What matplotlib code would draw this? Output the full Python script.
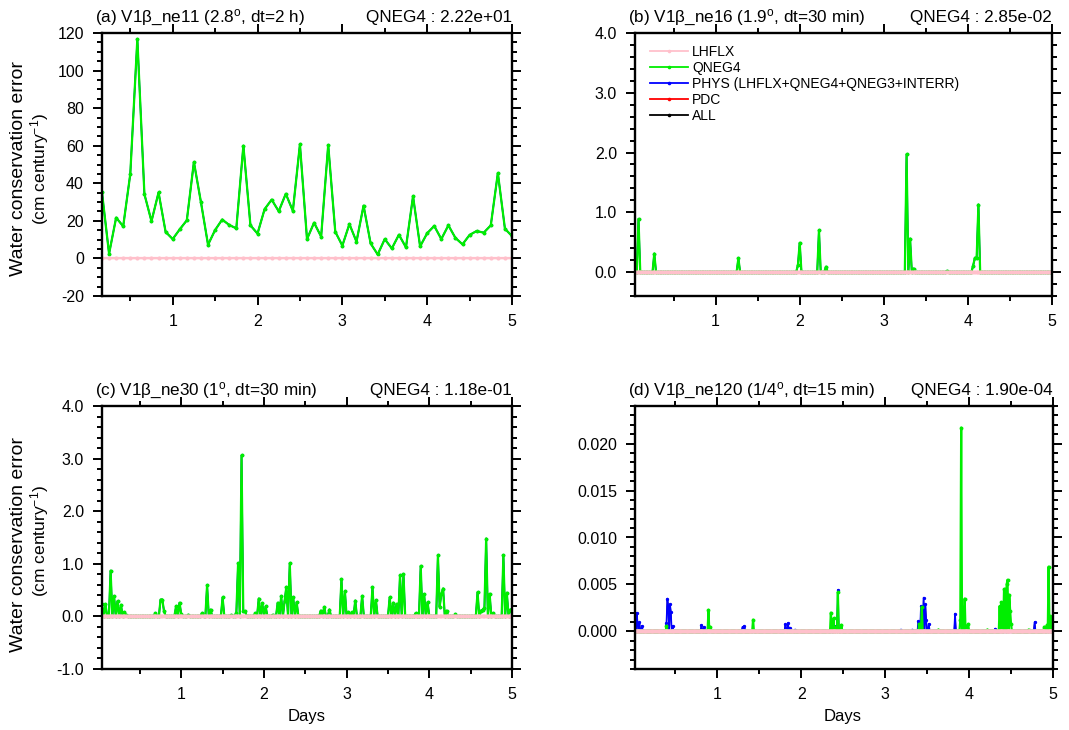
import numpy as np
import matplotlib
matplotlib.use('Agg')
import matplotlib.pyplot as plt
from matplotlib.ticker import MultipleLocator, FormatStrFormatter
from matplotlib.lines import Line2D

plt.rcParams['font.family'] = ['Liberation Sans', 'DejaVu Sans']
plt.rcParams['mathtext.fontset'] = 'custom'
plt.rcParams['mathtext.rm'] = 'Liberation Sans'
plt.rcParams['mathtext.it'] = 'Liberation Sans:italic'
plt.rcParams['mathtext.bf'] = 'Liberation Sans:bold'

# ---------------- data ----------------
series_names = ['LHFLX', 'QNEG4', 'PHYS (LHFLX+QNEG4+QNEG3+INTERR)', 'PDC', 'ALL']
series_colors = ['#ffc0cb', '#00ee00', '#0000ff', '#ff0000', '#000000']

titles_left = ['(a) V1\u03b2_ne11 (2.8$^\\mathrm{o}$, dt=2 h)',
               '(b) V1\u03b2_ne16 (1.9$^\\mathrm{o}$, dt=30 min)',
               '(c) V1\u03b2_ne30 (1$^\\mathrm{o}$, dt=30 min)',
               '(d) V1\u03b2_ne120 (1/4$^\\mathrm{o}$, dt=15 min)']
titles_right = ['QNEG4 : 2.22e+01', 'QNEG4 : 2.85e-02',
                'QNEG4 : 1.18e-01', 'QNEG4 : 1.90e-04']

# panel (a): output every 2 h, first output at day 1/6
a_start, a_step = 1 / 6, 1 / 12
a_qneg4 = [35.1, 2.5, 21.7, 17.1, 44.9, 116.8, 34.2, 19.8, 35.1, 14.1,
           10.3, 15.5, 20.3, 51.3, 29.9, 7.3, 15.1, 20.7, 17.8, 16.0,
           60.0, 17.6, 13.2, 26.2, 31.3, 25.1, 34.4, 25.3, 60.7, 10.3,
           19.0, 11.6, 60.4, 14.2, 6.8, 18.3, 8.9, 28.1, 8.0, 2.1,
           10.3, 5.3, 12.6, 5.9, 33.1, 6.4, 13.4, 17.3, 10.3, 17.6,
           10.9, 7.5, 12.5, 14.6, 13.7, 17.6, 45.4, 15.8, 11.9]

# panel (b): output every 30 min, nonzero QNEG4 events (day, value)
b_start, b_step = 1 / 24, 1 / 48
b_days = [0.074, 0.268, 1.269, 1.977, 2.005, 2.234, 2.318, 3.279, 3.315, 3.36,
          3.74, 4.06, 4.083, 4.104, 4.125]
b_vals = [0.89, 0.31, 0.23, 0.12, 0.49, 0.70, 0.09, 1.97, 0.56, 0.06,
          0.02, 0.11, 0.24, 0.24, 1.13]

# panel (c): output every 30 min, nonzero QNEG4 events
c_start, c_step = 1 / 24, 1 / 48
c_days = [0.041, 0.078, 0.142, 0.186, 0.227, 0.267, 0.307, 0.34,
          0.694, 0.754, 0.778, 0.80, 0.935, 0.976, 1.01, 1.077,
          1.246, 1.31, 1.35, 1.495, 1.60, 1.665, 1.69, 1.725, 1.75, 1.777,
          1.906, 1.935, 1.98, 2.02, 2.10, 2.16, 2.21, 2.25, 2.27, 2.31, 2.35, 2.39,
          2.68, 2.73, 2.80, 2.94, 2.98, 3.02, 3.07, 3.11, 3.19, 3.31, 3.36,
          3.52, 3.57, 3.61, 3.65, 3.69, 3.83, 3.90, 3.94, 3.985,
          4.105, 4.13, 4.15, 4.17, 4.20, 4.315,
          4.585, 4.625, 4.645, 4.665, 4.69, 4.73, 4.775, 4.90, 4.935, 4.975, 5.0]
c_vals = [0.23, 0.23, 0.87, 0.38, 0.29, 0.22, 0.08, 0.02,
          0.06, 0.32, 0.32, 0.10, 0.19, 0.26, 0.04, 0.03,
          0.06, 0.59, 0.13, 0.36, 0.02, 0.07, 1.01, 3.06, 0.10, 0.10,
          0.06, 0.34, 0.25, 0.19, 0.03, 0.26, 0.38, 0.29, 0.56, 1.01, 0.36, 0.27,
          0.11, 0.18, 0.13, 0.71, 0.48, 0.08, 0.08, 0.30, 0.39, 0.55, 0.31,
          0.36, 0.26, 0.24, 0.78, 0.80, 0.06, 0.96, 0.42, 0.27,
          1.16, 0.18, 0.43, 0.53, 0.11, 0.04,
          0.46, 0.11, 0.13, 0.16, 1.48, 0.43, 0.06, 1.16, 0.45, 0.13, 0.13]

# panel (d): output every 15 min, nonzero QNEG4 and PHYS events
d_start, d_step = 1 / 48, 1 / 96
d_q_days = [0.393, 0.897, 0.917, 1.43, 2.35, 2.39, 2.415, 2.44, 2.475,
            3.41, 3.44, 3.64, 3.90, 3.91, 3.93, 3.945, 3.97, 3.99,
            4.22, 4.366, 4.39, 4.42, 4.43, 4.45, 4.46, 4.48, 4.49, 4.50,
            4.71, 4.90, 4.93, 4.95, 4.97, 5.0]
d_q_vals = [0.00053, 0.0023, 0.0005, 0.00125, 0.0020, 0.0014, 0.0005, 0.0042, 0.0007,
            0.0008, 0.0026, 0.0002, 0.0012, 0.0217, 0.0026, 0.0035, 0.0006, 0.0008,
            0.0002, 0.0027, 0.0031, 0.0045, 0.0045, 0.0050, 0.0055, 0.0039, 0.0022, 0.0008,
            0.0002, 0.0005, 0.0007, 0.0069, 0.0016, 0.0004]
d_p_days = [0.021, 0.04, 0.056, 0.07, 0.10, 0.393, 0.405, 0.42, 0.437, 0.45, 0.47,
            0.81, 0.84, 1.30, 1.32, 1.81, 1.84, 1.86, 1.93, 2.42, 2.44,
            3.19, 3.32, 3.40, 3.43, 3.46, 3.48, 3.49, 3.52, 3.83, 4.31, 4.78]
d_p_vals = [0.0012, 0.0020, 0.0008, 0.0010, 0.0006, 0.0009, 0.0035, 0.0027, 0.0029, 0.0021, 0.0006,
            0.0007, 0.0005, 0.0005, 0.0006, 0.0008, 0.0009, 0.0004, 0.0002, 0.0006, 0.0044,
            0.0002, 0.0002, 0.0011, 0.0027, 0.0036, 0.0029, 0.0012, 0.0008, 0.0019, 0.0003, 0.0010]

# axis settings
ylims = [(-20, 120), (-0.4, 4.0), (-1.0, 4.0), (-0.004, 0.024)]
ymajor = [20, 1.0, 1.0, 0.005]
yminor = [5, 0.2, 0.2, 0.001]
yfmt = ['%d', '%.1f', '%.1f', '%.3f']
xstarts = [a_start, b_start, c_start, d_start]


def grid_series(start, step, days, vals):
    n = int(round((5 - start) / step)) + 1
    t = start + step * np.arange(n)
    y = np.zeros(n)
    for d, v in zip(days, vals):
        i = int(round((d - start) / step))
        i = min(max(i, 0), n - 1)
        y[i] = max(y[i], v)
    return t, y


# build series for each panel: (x, LHFLX, QNEG4, PHYS, PDC, ALL)
xa = a_start + a_step * np.arange(len(a_qneg4))
qa = np.array(a_qneg4)
panels = [(xa, np.zeros_like(qa), qa, qa, np.zeros_like(qa), qa)]
xb, qb = grid_series(b_start, b_step, b_days, b_vals)
panels.append((xb, np.zeros_like(qb), qb, qb, np.zeros_like(qb), qb))
xc, qc = grid_series(c_start, c_step, c_days, c_vals)
panels.append((xc, np.zeros_like(qc), qc, qc, np.zeros_like(qc), qc))
xd, qd = grid_series(d_start, d_step, d_q_days, d_q_vals)
_, pd_ = grid_series(d_start, d_step, d_p_days, d_p_vals)
panels.append((xd, np.zeros_like(qd), qd, pd_, np.zeros_like(qd), pd_))

# ---------------- figure ----------------
W, H = 1069, 730
fig = plt.figure(figsize=(W / 100, H / 100), dpi=100)
boxes = [(102, 33, 512, 296), (635, 33, 1052, 296),
         (102, 406, 512, 669), (635, 406, 1053, 669)]

axes = []
for k, (l, t, r, b) in enumerate(boxes):
    ax = fig.add_axes([l / W, 1 - b / H, (r - l) / W, (b - t) / H])
    axes.append(ax)
    x, lh, q, ph, pdc, al = panels[k]
    # draw order: ALL, PDC, PHYS, QNEG4, LHFLX
    for vals, col, lw, ms in [(al, series_colors[4], 0.8, 1.6),
                              (pdc, series_colors[3], 0.8, 1.6),
                              (ph, series_colors[2], 1.2, 2.4),
                              (q, series_colors[1], 1.6, 2.8),
                              (lh, series_colors[0], 1.6, 3.0)]:
        ax.plot(x, vals, color=col, lw=lw, marker='o', ms=ms, mew=0, clip_on=True)
    ax.set_xlim(xstarts[k], 5)
    ax.set_ylim(*ylims[k])
    ax.xaxis.set_major_locator(MultipleLocator(1))
    ax.xaxis.set_minor_locator(MultipleLocator(0.5))
    ax.xaxis.set_major_formatter(FormatStrFormatter('%d'))
    ax.yaxis.set_major_locator(MultipleLocator(ymajor[k]))
    ax.yaxis.set_minor_locator(MultipleLocator(yminor[k]))
    ax.yaxis.set_major_formatter(FormatStrFormatter(yfmt[k]))
    ax.tick_params(which='both', direction='out', top=True, right=True,
                   labelsize=11.5, width=1.4)
    ax.tick_params(which='major', length=6.5, pad=6.5)
    ax.tick_params(which='minor', length=3.5)
    for s in ax.spines.values():
        s.set_linewidth(1.7)
    ax.text(-0.016, 1.04, titles_left[k], transform=ax.transAxes,
            ha='left', va='baseline', fontsize=12.3)
    ax.text(1.0, 1.04, titles_right[k], transform=ax.transAxes,
            ha='right', va='baseline', fontsize=12.3)

# legend in panel (b)
handles = [Line2D([], [], color=c, lw=1.3, marker='o', ms=2.6, mew=0)
           for c in series_colors]
axes[1].legend(handles, series_names, loc='upper left', bbox_to_anchor=(0.035, 0.955),
               frameon=False, fontsize=10, handlelength=2.75, handletextpad=0.3,
               labelspacing=0.15, borderaxespad=0, borderpad=0)

# y labels
for yc1, yc2 in [(169, 169), (545, 541)]:
    fig.text(19 / W, 1 - yc1 / H, 'Water conservation error', rotation=90,
             ha='center', va='center', fontsize=14)
    fig.text(40 / W, 1 - yc2 / H, '(cm century$^{-1}$)', rotation=90,
             ha='center', va='center', fontsize=12.5)

# x labels
for xc in [307, 843]:
    fig.text(xc / W, 1 - 717 / H, 'Days', ha='center', va='center', fontsize=12)

fig.savefig('out.png', dpi=100)
